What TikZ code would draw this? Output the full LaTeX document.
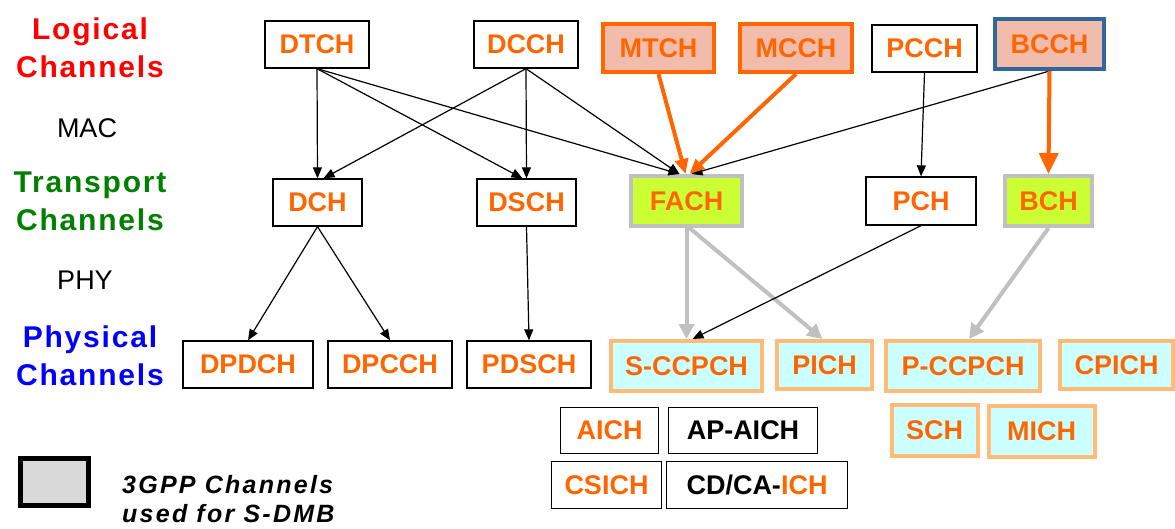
\documentclass[tikz,border=0pt]{standalone}
\usepackage{fontspec}
\setmainfont{Liberation Sans}
\usetikzlibrary{arrows.meta}

\definecolor{chorange}{HTML}{FF6600}
\definecolor{pinkfill}{HTML}{F2BCAD}
\definecolor{limefill}{HTML}{CCFF33}
\definecolor{cyanfill}{HTML}{CCFFFF}
\definecolor{peach}{HTML}{FFBB77}
\definecolor{greyedge}{HTML}{C0C0C0}
\definecolor{bluedge}{HTML}{336699}
\definecolor{legendfill}{HTML}{D9D9D9}
\definecolor{labred}{HTML}{FF0000}
\definecolor{labgreen}{HTML}{008000}
\definecolor{labblue}{HTML}{0000FF}

\newcommand{\chanfont}{\bfseries\fontsize{27}{27}\selectfont}
\newcommand{\layerfont}{\bfseries\fontsize{30}{30}\selectfont\addfontfeature{LetterSpace=6}}
\newcommand{\sublayerfont}{\fontsize{27}{27}\selectfont}
\newcommand{\keyfont}{\bfseries\itshape\fontsize{25}{25}\selectfont\addfontfeature{LetterSpace=9}}

\begin{document}
\begin{tikzpicture}[x=1pt,y=-1pt,
  sz/.style 2 args={minimum width=#1pt, minimum height=#2pt},
  chan/.style={draw=black, line width=1.3pt, fill=white, inner sep=0pt,
               text=chorange, font=\chanfont},
  logic/.style={chan, draw=chorange, line width=4pt, fill=pinkfill},
  bcast/.style={chan, draw=bluedge, line width=4pt, fill=pinkfill},
  trsdmb/.style={chan, draw=greyedge, line width=4pt, fill=limefill},
  physdmb/.style={chan, draw=peach, line width=4pt, fill=cyanfill},
  legendbox/.style={draw=black, line width=5pt, fill=legendfill, inner sep=0pt},
  layer/.style={anchor=base, inner sep=0pt, font=\layerfont},
  sublayer/.style={anchor=base, inner sep=0pt, font=\sublayerfont},
  keytext/.style={anchor=base west, inner sep=0pt, font=\keyfont},
  link/.style={line width=1.2pt, -{Triangle[length=11pt,width=9pt]}},
  mlink/.style={draw=chorange, line width=4pt, -{Triangle[length=15pt,width=13pt]}},
  biglink/.style={draw=chorange, line width=4pt, -{Triangle[length=21pt,width=19pt]}},
  glink/.style={draw=greyedge, line width=4pt, -{Triangle[length=15pt,width=15pt]}}
]
\useasboundingbox (0,0) rectangle (1175,528);

% layer titles on the left
\node[layer, text=labred]   (lg1) at (90,39)  {Logical};
\node[layer, text=labred]   (lg2) at (90,77)  {Channels};
\node[sublayer]             (mac) at (87,137) {MAC};
\node[layer, text=labgreen] (tr1) at (90,192) {Transport};
\node[layer, text=labgreen] (tr2) at (90,230) {Channels};
\node[sublayer]             (phy) at (85,289) {PHY};
\node[layer, text=labblue]  (ph1) at (90,347) {Physical};
\node[layer, text=labblue]  (ph2) at (90,385) {Channels};

% logical channels
\node[chan, sz={104}{47}]  (DTCH) at (317,44.5)   {DTCH};
\node[chan, sz={104}{47}]  (DCCH) at (526,44.5)   {DCCH};
\node[logic, sz={111}{48}] (MTCH) at (658.5,48)   {MTCH};
\node[logic, sz={112}{48}] (MCCH) at (796,48)     {MCCH};
\node[chan, sz={105}{47}]  (PCCH) at (924.5,48.5) {PCCH};
\node[bcast, sz={109}{50}] (BCCH) at (1049.5,44)  {BCCH};

% transport channels
\node[chan, sz={89}{47}]    (DCH)  at (317.5,202.5) {DCH};
\node[chan, sz={99}{47}]    (DSCH) at (526.5,202.5) {DSCH};
\node[trsdmb, sz={111}{50}] (FACH) at (686.5,201)   {FACH};
\node[chan, sz={110}{48}]   (PCH)  at (921,201)     {PCH};
\node[trsdmb, sz={87}{50}]  (BCH)  at (1048.5,201)  {BCH};

% physical channels
\node[chan, sz={130}{47}]    (DPDCH)  at (248,364.5)  {DPDCH};
\node[chan, sz={124}{47}]    (DPCCH)  at (390,364.5)  {DPCCH};
\node[chan, sz={124}{47}]    (PDSCH)  at (529,364.5)  {PDSCH};
\node[physdmb, sz={151}{50}] (SCCPCH) at (686.5,366)  {S-CCPCH};
\node[physdmb, sz={95}{48}]  (PICH)   at (824.5,365)  {PICH};
\node[physdmb, sz={154}{50}] (PCCPCH) at (963,366)    {P-CCPCH};
\node[physdmb, sz={113}{48}] (CPICH)  at (1116.5,365) {CPICH};

\node[chan, sz={98}{46}]     (AICH)   at (609.5,430.5) {AICH};
\node[chan, sz={149}{46}, text=black] (APAICH) at (743,430.5) {AP-AICH};
\node[chan, sz={110}{47}]    (CSICH)  at (606.5,485)   {CSICH};
\node[chan, sz={181}{47}]    (CDCAICH) at (757,485)    {\textcolor{black}{CD/CA-}ICH};
\node[physdmb, sz={86}{51}]  (SCH)    at (934.5,430)   {SCH};
\node[physdmb, sz={106}{51}] (MICH)   at (1041.5,431.5) {MICH};

% logical -> transport mapping
\draw[link] (DTCH.south) -- (DCH.north);
\draw[link] (DTCH.south) -- ([xshift=-4pt]DSCH.north);
\draw[link] (DTCH.south) -- ([xshift=-7pt]FACH.north);
\draw[link] (DCCH.south) -- ([xshift=6pt]DCH.north);
\draw[link] (DCCH.south) -- (DSCH.north);
\draw[link] (DCCH.south) -- ([xshift=-7pt]FACH.north);
\draw[link] (BCCH.south) -- ([xshift=5pt]FACH.north);
\draw[link] (PCCH.south) -- (PCH.north);
\draw[mlink] (MTCH.south) -- ([xshift=-1pt]FACH.north);
\draw[mlink] (MCCH.south) -- ([xshift=3pt]FACH.north);
\draw[biglink] (BCCH.south) -- (BCH.north);

% transport -> physical mapping
\draw[link] (DCH.south) -- (DPDCH.north);
\draw[link] (DCH.south) -- (DPCCH.north);
\draw[link] (DSCH.south) -- (PDSCH.north);
\draw[glink] (FACH.south) -- (SCCPCH.north);
\draw[glink] ([xshift=3pt]FACH.south) -- ([xshift=-2pt]PICH.north);
\draw[glink] (BCH.south) -- ([xshift=6pt]PCCPCH.north);
\draw[link] (PCH.south) -- ([xshift=6pt]SCCPCH.north);

% legend
\node[legendbox, minimum width=68pt, minimum height=47pt] (key) at (54.5,482) {};
\node[keytext] (keyl1) at (122,493) {3GPP Channels};
\node[keytext] (keyl2) at (122,522) {used for S-DMB};
\end{tikzpicture}
\end{document}
